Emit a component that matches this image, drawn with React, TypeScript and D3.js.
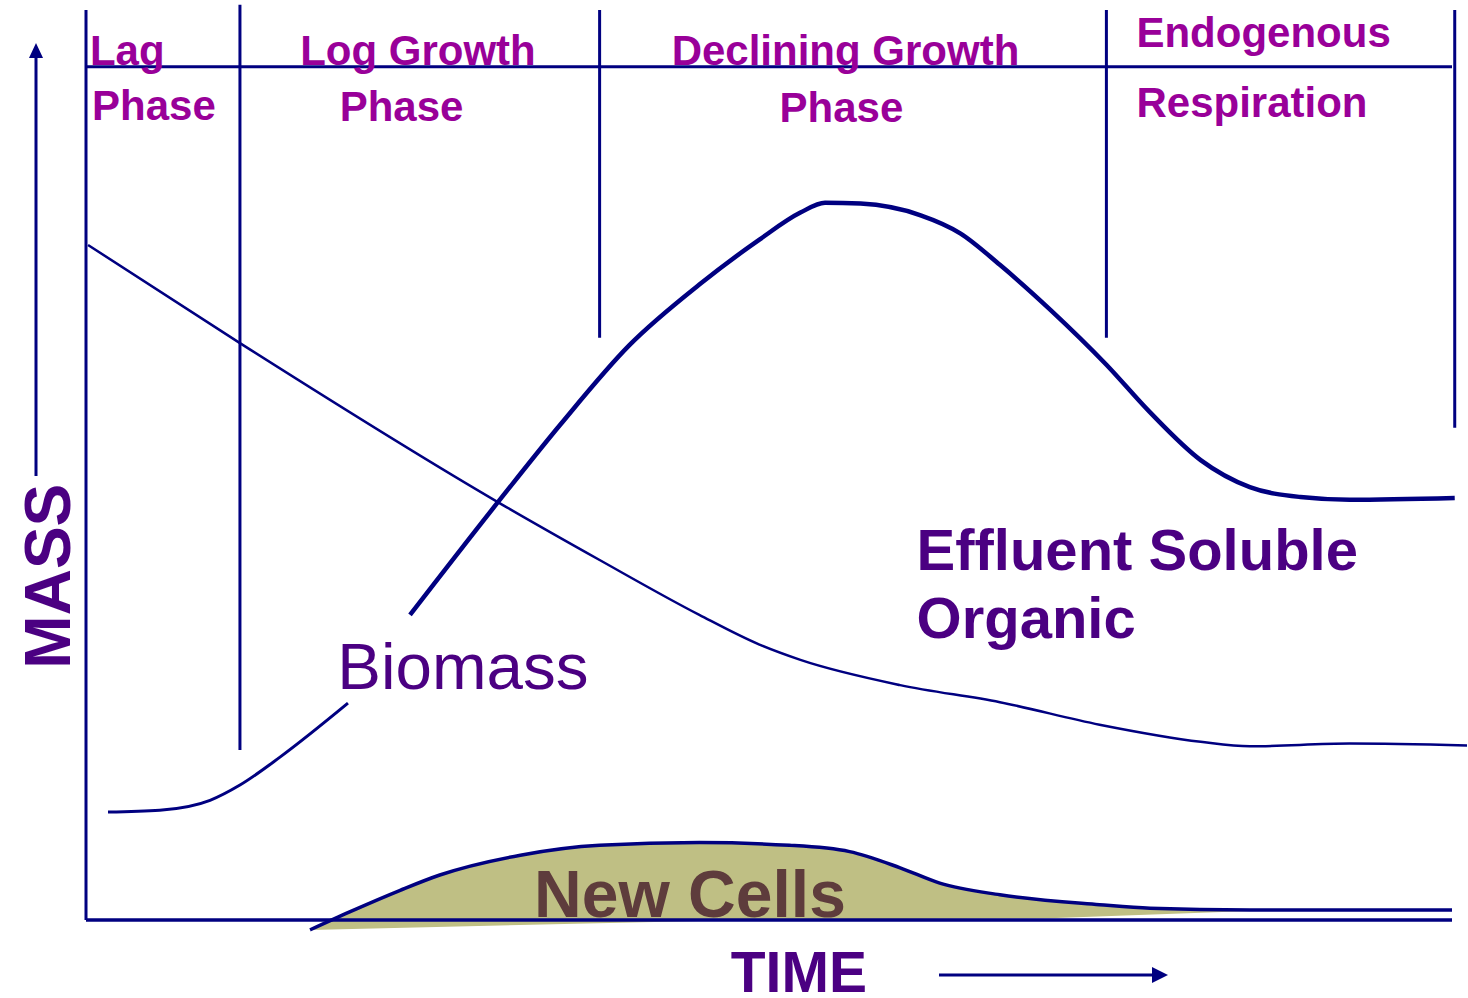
import React from "react";
import * as d3 from "d3";

// ---- data (time units 0..100, mass units 0..100) ----
const phaseBounds = [0, 11.27, 37.6, 74.7, 100.2];
const phaseLineTop = [101.1, 101.7, 101.1, 101.1, 101.1];
const phaseLineBottom = [0, 18.9, 64.7, 64.7, 54.7];
const phaseHeaderLevel = 94.8;

const phaseLabels = [
  { text: "Lag", t: 0.29, m: 95.0, anchor: "start" },
  { text: "Phase", t: 0.44, m: 88.9, anchor: "start" },
  { text: "Log Growth", t: 24.3, m: 95.0, anchor: "middle" },
  { text: "Phase", t: 23.1, m: 88.8, anchor: "middle" },
  { text: "Declining Growth", t: 55.6, m: 95.0, anchor: "middle" },
  { text: "Phase", t: 55.3, m: 88.7, anchor: "middle" },
  { text: "Endogenous", t: 76.9, m: 97.0, anchor: "start" },
  { text: "Respiration", t: 76.9, m: 89.2, anchor: "start" },
];

// Biomass curve (thick); gap around the label
const biomassLow = [
  [1.61, 12.0], [5.4, 12.2], [9.08, 13.3], [11.27, 15.0], [14.2, 18.1], [19.18, 24.1],
];
const biomassHigh = [
  [23.72, 33.9], [30.3, 46.7], [34.7, 55.0], [39.8, 63.9], [44.9, 70.6], [49.3, 75.6],
  [52.3, 78.6], [54.1, 79.7], [56.7, 79.6], [61.1, 78.3], [64.0, 76.3], [66.9, 72.8],
  [70.6, 67.8], [74.7, 61.7], [77.9, 56.4], [81.6, 51.1], [85.2, 48.1], [88.9, 47.0],
  [92.5, 46.7], [100.2, 46.9],
];

// Effluent soluble organic (thin)
const effluent = [
  [0.15, 75.0], [11.27, 64.1], [30.3, 46.3], [37.6, 40.0], [44.9, 33.9], [49.3, 30.6],
  [52.3, 28.9], [59.6, 26.1], [66.9, 24.2], [74.2, 21.7], [81.6, 19.8], [85.2, 19.3],
  [92.5, 19.6], [101.1, 19.4],
];

// New cells
const newCellsTop = [
  [16.4, -1.1], [19.3, 0.9], [23.0, 3.3], [25.9, 5.0], [31.8, 7.2], [37.6, 8.3],
  [44.9, 8.6], [51.5, 8.3], [55.9, 7.6], [59.6, 5.8], [62.5, 4.1], [66.9, 2.8],
  [74.2, 1.7], [77.9, 1.3], [85.2, 1.1], [100, 1.1],
];
const newCellsBottom = [
  [16.4, -1.1], [44.9, -0.1], [59.6, 0.1], [70.5, 0.2], [85.2, 1.0],
];

const W = 1468;
const H = 998;
const NAVY = "#000080";
const MAGENTA = "#990099";
const INDIGO = "#4B0082";

export default function App() {
  const x = d3.scaleLinear().domain([0, 100]).range([86, 1452]);
  const y = d3.scaleLinear().domain([0, 100]).range([920, 20]);

  const line = d3
    .line<number[]>()
    .x((d) => x(d[0]))
    .y((d) => y(d[1]))
    .curve(d3.curveMonotoneX);

  const endT = newCellsBottom[newCellsBottom.length - 1][0];
  const topPart = newCellsTop.filter((d) => d[0] <= endT);
  const topPath = line(topPart) || "";
  const botRev = [...newCellsBottom].reverse();
  const lineRev = d3
    .line<number[]>()
    .x((d) => x(d[0]))
    .y((d) => y(d[1]))
    .curve(d3.curveLinear);
  const botPath = (lineRev(botRev) || "").replace(/^M/, "L");
  const areaPath = topPath + botPath + "Z";

  const font = "'Liberation Sans', Arial, Helvetica, sans-serif";

  return (
    <svg
      width={W}
      height={H}
      style={{ position: "absolute", left: 0, top: 0, background: "#fff" }}
    >
      {/* y axis */}
      <line x1={x(0)} x2={x(0)} y1={y(phaseLineTop[0])} y2={y(0)} stroke={NAVY} strokeWidth={3} />

      {/* new cells */}
      <path d={areaPath} fill="#BFBF84" stroke="none" />
      {/* x axis */}
      <line x1={x(0)} x2={x(100)} y1={y(0)} y2={y(0)} stroke={NAVY} strokeWidth={3.5} />
      <path d={line(newCellsTop) || ""} fill="none" stroke={NAVY} strokeWidth={3.5} />

      {/* phase lines */}
      {phaseBounds.slice(1).map((b, i) => (
        <line key={i} x1={x(b)} x2={x(b)} y1={y(phaseLineTop[i + 1])} y2={y(phaseLineBottom[i + 1])}
          stroke={NAVY} strokeWidth={3} />
      ))}
      <line x1={x(0)} x2={x(100)} y1={y(phaseHeaderLevel)} y2={y(phaseHeaderLevel)} stroke={NAVY} strokeWidth={3} />

      {/* curves */}
      <path d={line(effluent) || ""} fill="none" stroke={NAVY} strokeWidth={2.5} />
      <path d={line(biomassLow) || ""} fill="none" stroke={NAVY} strokeWidth={3} />
      <path d={line(biomassHigh) || ""} fill="none" stroke={NAVY} strokeWidth={4.5} />

      {/* mass arrow */}
      <line x1={36} x2={36} y1={476} y2={56} stroke={NAVY} strokeWidth={3} />
      <path d="M36,43 L29,58 L43,58 Z" fill={NAVY} />
      {/* time arrow */}
      <line x1={939} x2={1155} y1={975} y2={975} stroke={NAVY} strokeWidth={3} />
      <path d="M1168,975 L1152,967 L1152,983 Z" fill={NAVY} />

      {/* phase labels */}
      {phaseLabels.map((l, i) => (
        <text key={i} x={x(l.t)} y={y(l.m)} textAnchor={l.anchor as any} fill={MAGENTA}
          fontFamily={font} fontWeight="bold" fontSize={42}>
          {l.text}
        </text>
      ))}

      <text x={x(18.4)} y={y(25.7)} fill={INDIGO} fontFamily={font} fontSize={65.5}>Biomass</text>
      <text x={x(60.8)} y={y(38.9)} fill={INDIGO} fontFamily={font} fontWeight="bold" fontSize={58}>Effluent Soluble</text>
      <text x={x(60.8)} y={y(31.3)} fill={INDIGO} fontFamily={font} fontWeight="bold" fontSize={58}>Organic</text>
      <text x={x(32.8)} y={y(0.33)} fill="#5E3C3C" fontFamily={font} fontWeight="bold" fontSize={66}>New Cells</text>
      <text x={x(47.2)} y={y(-8.0)} fill={INDIGO} fontFamily={font} fontWeight="bold" fontSize={57}>TIME</text>
      <text transform={`translate(70,${y(38.2)}) rotate(-90)`} textAnchor="middle" fill={INDIGO}
        fontFamily={font} fontWeight="bold" fontSize={64}>MASS</text>
    </svg>
  );
}
